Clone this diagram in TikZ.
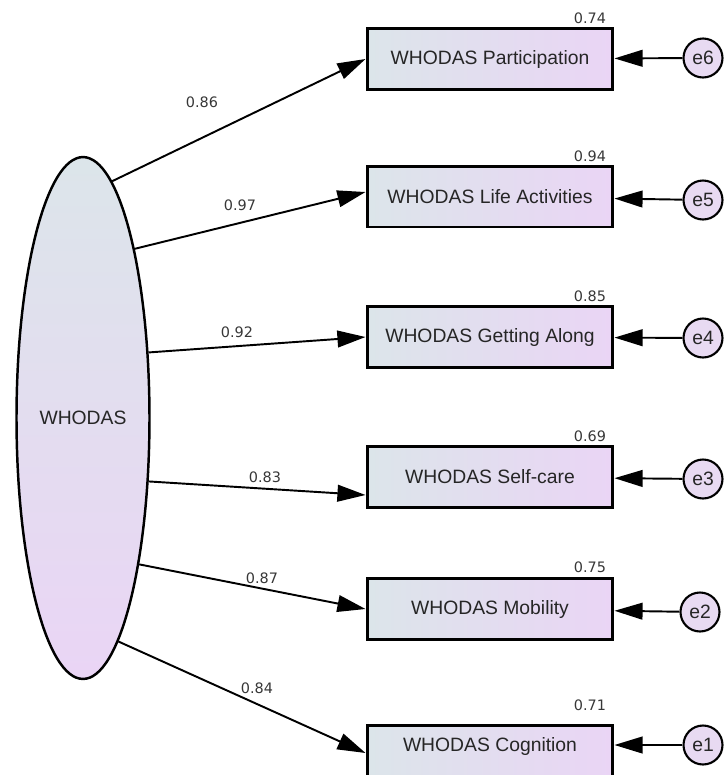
\documentclass[tikz,border=0pt]{standalone}
\usepackage{fontspec}
\setmainfont{Liberation Sans}
\newfontfamily\numfont{DejaVu Sans}
\usetikzlibrary{arrows.meta,shapes.geometric}
\definecolor{boxL}{RGB}{220,229,234}
\definecolor{boxR}{RGB}{234,213,245}
\definecolor{errC}{RGB}{232,218,242}
\definecolor{numC}{RGB}{55,55,55}
\begin{document}
\begin{tikzpicture}[x=0.02cm,y=-0.02cm,
  every node/.style={font=\fontsize{11}{13}\selectfont,text=black!85},
  obs/.style={draw,line width=1.7pt,left color=boxL,right color=boxR,minimum width=4.92cm,minimum height=1.22cm,inner sep=0pt},
  lat/.style={ellipse,draw,line width=1.4pt,top color=boxL,bottom color=boxR,minimum width=2.66cm,minimum height=10.44cm,inner sep=0pt},
  err/.style={circle,draw,line width=1.2pt,fill=errC,minimum size=0.78cm,inner sep=0pt},
  coef/.style={font=\numfont\fontsize{8.2}{10}\selectfont,text=numC,inner sep=1pt},
  reg/.style={line width=1.1pt,-{Triangle[length=16pt,width=9.5pt]}}]
\useasboundingbox (0,0) rectangle (725,775);
% latent factor
\node[lat] (wh) at (83,418) {WHODAS};
% observed indicators
\node[obs] (pa) at (490,59) {WHODAS Participation};
\node[obs] (la) at (490,196.5) {WHODAS Life Activities};
\node[obs] (ga) at (490,337) {WHODAS Getting Along};
\node[obs] (sc) at (490,477) {WHODAS Self-care};
\node[obs] (mo) at (490,609) {WHODAS Mobility};
\node[obs,text depth=0.45cm] (co) at (490,756) {WHODAS Cognition};
% error terms
\node[err] (e6) at (703,58) {e6};
\node[err] (e5) at (703,200) {e5};
\node[err] (e4) at (703,338) {e4};
\node[err] (e3) at (703,479) {e3};
\node[err] (e2) at (700,612) {e2};
\node[err] (e1) at (703,745) {e1};
% loadings
\draw[reg] (wh.83) -- (pa.west);
\draw[reg] (wh.73) -- ([yshift=0.09cm]la.west);
\draw[reg] (wh.45) -- (ga.west);
\draw[reg] (wh.-44) -- ([yshift=-0.36cm]sc.west);
\draw[reg] (wh.-69) -- (mo.west);
\draw[reg] (wh.-81) -- ([yshift=0.06cm]co.west);
\node[coef] (c6) at (202,102) {0.86};
\node[coef] (c5) at (240,205) {0.97};
\node[coef] (c4) at (237,332) {0.92};
\node[coef] (c3) at (265,477) {0.83};
\node[coef] (c2) at (262,578) {0.87};
\node[coef] (c1) at (257,688) {0.84};
% error paths
\draw[reg] (e6) -- (pa);
\draw[reg] (e5) -- (la);
\draw[reg] (e4) -- (ga);
\draw[reg] (e3) -- (sc);
\draw[reg] (e2) -- (mo);
\draw[reg] (e1) -- (e1 -| co.east);
% squared multiple correlations
\node[coef] (r6) at (590,18) {0.74};
\node[coef] (r5) at (590,156) {0.94};
\node[coef] (r4) at (590,296) {0.85};
\node[coef] (r3) at (590,436) {0.69};
\node[coef] (r2) at (590,567) {0.75};
\node[coef] (r1) at (590,705) {0.71};
\end{tikzpicture}
\end{document}
